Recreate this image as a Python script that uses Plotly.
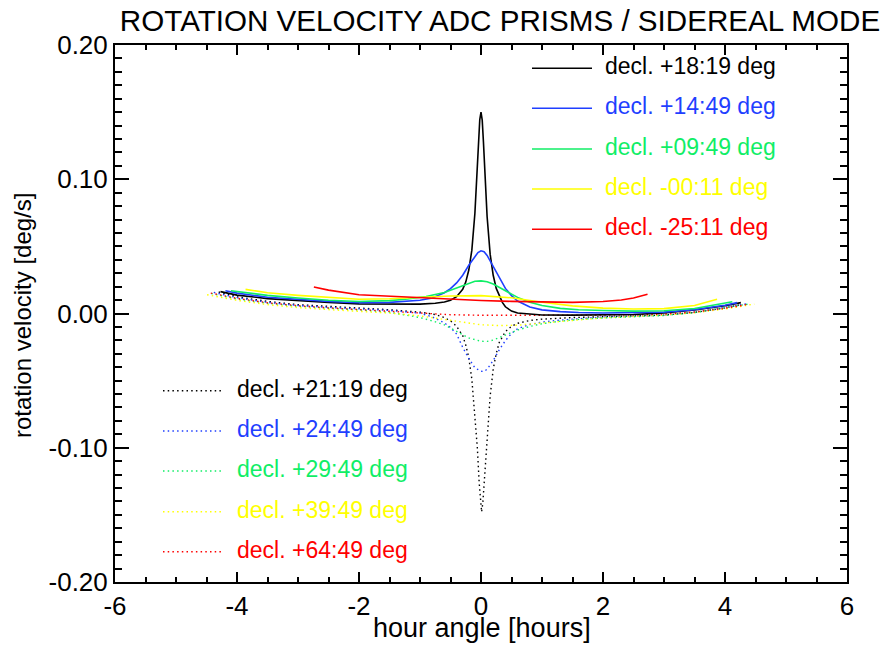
import plotly.graph_objects as go

# ---------------- data ----------------
hours_black_solid = [-4.27, -4.0, -3.5, -3.0, -2.5, -2.0, -1.5, -1.0, -0.75, -0.6, -0.5, -0.4, -0.3, -0.25, -0.2,
                     -0.15, -0.1, -0.07, -0.04, -0.02, 0.0, 0.02, 0.04, 0.07, 0.1, 0.15, 0.2, 0.25, 0.3, 0.35, 0.4,
                     0.5, 0.6, 0.8, 1.0, 1.5, 2.0, 2.5, 3.0, 3.5, 4.0, 4.26]
vel_black_solid = [0.0163, 0.0137, 0.0111, 0.0096, 0.0083, 0.0072, 0.0069, 0.0070, 0.0076, 0.0086, 0.0099, 0.0125,
                   0.0180, 0.0234, 0.0324, 0.0472, 0.0747, 0.0993, 0.1288, 0.1445, 0.1500, 0.1440, 0.1278, 0.0973,
                   0.0723, 0.0442, 0.0285, 0.0187, 0.0128, 0.0083, 0.0050, 0.0018, 0.0004, -0.0006, -0.0011, -0.0012,
                   -0.0011, -0.0007, 0.0005, 0.0026, 0.0058, 0.0081]

hours_blue_solid = [-4.19, -4.0, -3.5, -3.0, -2.5, -2.0, -1.5, -1.0, -0.8, -0.6, -0.5, -0.4, -0.3, -0.2, -0.1, -0.05,
                    0.0, 0.05, 0.1, 0.2, 0.3, 0.4, 0.5, 0.6, 0.8, 1.0, 1.3, 1.6, 2.0, 2.5, 3.0, 3.5, 4.0, 4.2]
vel_blue_solid = [0.0170, 0.0152, 0.0121, 0.0103, 0.0090, 0.0080, 0.0083, 0.0099, 0.0116, 0.0155, 0.0185, 0.0228,
                  0.0285, 0.0359, 0.0428, 0.0454, 0.0467, 0.0460, 0.0433, 0.0349, 0.0261, 0.0187, 0.0133, 0.0093,
                  0.0049, 0.0027, 0.0014, 0.0007, 0.0004, 0.0005, 0.0010, 0.0029, 0.0062, 0.0081]

hours_green_solid = [-4.1, -3.5, -3.0, -2.5, -2.0, -1.5, -1.2, -0.9, -0.6, -0.4, -0.2, -0.1, 0.0, 0.1, 0.2, 0.4, 0.6,
                     0.8, 1.0, 1.3, 1.6, 2.0, 2.5, 3.0, 3.5, 4.12]
vel_green_solid = [0.0170, 0.0135, 0.0115, 0.0099, 0.0089, 0.0096, 0.0108, 0.0127, 0.0157, 0.0190, 0.0227, 0.0240,
                   0.0243, 0.0236, 0.0219, 0.0167, 0.0120, 0.0084, 0.0059, 0.0038, 0.0028, 0.0022, 0.0018, 0.0020,
                   0.0037, 0.0088]

hours_yellow_solid = [-3.86, -3.5, -3.0, -2.5, -2.0, -1.5, -1.0, -0.5, 0.0, 0.5, 1.0, 1.5, 2.0, 2.5, 3.0, 3.5, 3.87]
vel_yellow_solid = [0.0180, 0.0154, 0.0135, 0.0118, 0.0106, 0.0110, 0.0120, 0.0130, 0.0133, 0.0117, 0.0084, 0.0057,
                    0.0040, 0.0033, 0.0036, 0.0059, 0.0106]

hours_red_solid = [-2.74, -2.5, -2.0, -1.5, -1.0, -0.5, 0.0, 0.5, 1.0, 1.5, 2.0, 2.3, 2.5, 2.73]
vel_red_solid = [0.0198, 0.0174, 0.0140, 0.0128, 0.0119, 0.0106, 0.0097, 0.0090, 0.0085, 0.0083, 0.0089, 0.0101,
                 0.0115, 0.0143]

hours_black_dot = [-4.3, -4.0, -3.5, -3.0, -2.5, -2.0, -1.5, -1.0, -0.75, -0.6, -0.5, -0.4, -0.3, -0.25, -0.2, -0.15,
                   -0.1, -0.06, -0.03, 0.0, 0.01, 0.03, 0.06, 0.1, 0.15, 0.2, 0.25, 0.3, 0.4, 0.5, 0.6, 0.8, 1.0, 1.5,
                   2.0, 2.5, 3.0, 3.5, 4.0, 4.28]
vel_black_dot = [0.0160, 0.0125, 0.0090, 0.0066, 0.0053, 0.0043, 0.0028, 0.0010, -0.0008, -0.0030, -0.0055, -0.0095,
                 -0.0165, -0.0235, -0.0330, -0.0490, -0.0740, -0.1000, -0.1260, -0.1440, -0.1478, -0.1410, -0.1210,
                 -0.0910, -0.0615, -0.0415, -0.0298, -0.0215, -0.0135, -0.0095, -0.0073, -0.0052, -0.0042, -0.0030,
                 -0.0023, -0.0018, -0.0012, 0.0008, 0.0042, 0.0068]

hours_blue_dot = [-4.38, -4.0, -3.5, -3.0, -2.5, -2.0, -1.5, -1.0, -0.8, -0.6, -0.5, -0.4, -0.3, -0.2, -0.1, 0.0,
                  0.05, 0.1, 0.2, 0.3, 0.4, 0.5, 0.6, 0.8, 1.0, 1.3, 1.6, 2.0, 2.5, 3.0, 3.5, 4.0, 4.37]
vel_blue_dot = [0.0157, 0.0118, 0.0083, 0.0060, 0.0046, 0.0036, 0.0023, 0.0003, -0.0025, -0.0070, -0.0104, -0.0153,
                -0.0252, -0.0335, -0.0405, -0.0430, -0.0432, -0.0415, -0.0350, -0.0270, -0.0202, -0.0148, -0.0113,
                -0.0082, -0.0064, -0.0049, -0.0037, -0.0026, -0.0020, -0.0012, 0.0010, 0.0047, 0.0073]

hours_green_dot = [-4.42, -4.0, -3.5, -3.0, -2.5, -2.0, -1.5, -1.0, -0.8, -0.6, -0.4, -0.2, 0.0, 0.1, 0.2, 0.4, 0.6,
                   0.8, 1.0, 1.3, 1.6, 2.0, 2.5, 3.0, 3.5, 4.0, 4.42]
vel_green_dot = [0.0148, 0.0108, 0.0076, 0.0054, 0.0039, 0.0027, 0.0009, -0.0030, -0.0055, -0.0084, -0.0133, -0.0182,
                 -0.0207, -0.0208, -0.0198, -0.0158, -0.0123, -0.0097, -0.0076, -0.0057, -0.0044, -0.0033, -0.0025,
                 -0.0015, 0.0007, 0.0043, 0.0073]

hours_yellow_dot = [-4.49, -4.0, -3.5, -3.0, -2.5, -2.0, -1.5, -1.0, -0.5, 0.0, 0.3, 0.6, 1.0, 1.5, 2.0, 2.5, 3.0,
                    3.5, 4.0, 4.48]
vel_yellow_dot = [0.0140, 0.0098, 0.0066, 0.0044, 0.0029, 0.0017, 0.0003, -0.0018, -0.0050, -0.0084, -0.0090,
                  -0.0087, -0.0071, -0.0050, -0.0033, -0.0022, -0.0012, 0.0005, 0.0034, 0.0070]

hours_red_dot = [-4.43, -4.0, -3.5, -3.0, -2.5, -2.0, -1.5, -1.0, -0.5, 0.0, 0.5, 1.0, 1.5, 2.0, 2.5, 3.0, 3.5, 4.0, 4.4]
vel_red_dot = [0.0152, 0.0113, 0.0080, 0.0058, 0.0042, 0.0029, 0.0014, 0.0001, -0.0009, -0.0013, -0.0014, -0.0014,
               -0.0013, -0.0012, -0.0010, -0.0004, 0.0011, 0.0039, 0.0070]

solid_labels = ["decl. +18:19 deg", "decl. +14:49 deg", "decl. +09:49 deg", "decl. -00:11 deg", "decl. -25:11 deg"]
dotted_labels = ["decl. +21:19 deg", "decl. +24:49 deg", "decl. +29:49 deg", "decl. +39:49 deg", "decl. +64:49 deg"]

x_tick_values = [-6, -4, -2, 0, 2, 4, 6]
x_tick_labels = ["-6", "-4", "-2", "0", "2", "4", "6"]
y_tick_values = [-0.2, -0.1, 0.0, 0.1, 0.2]
y_tick_labels = ["-0.20", "-0.10", "0.00", "0.10", "0.20"]

title_text = "ROTATION VELOCITY ADC PRISMS / SIDEREAL MODE"
x_title = "hour angle [hours]"
y_title = "rotation velocity [deg/s]"

# ---------------- styling ----------------
colors = ["#000000", "#1f3fff", "#10ee66", "#ffff00", "#ff0000"]
FONT = "Liberation Sans, Arial, Helvetica, sans-serif"
DOT = "1.5px,3.2px"

solid_series = [(hours_black_solid, vel_black_solid), (hours_blue_solid, vel_blue_solid),
                (hours_green_solid, vel_green_solid), (hours_yellow_solid, vel_yellow_solid),
                (hours_red_solid, vel_red_solid)]
dotted_series = [(hours_black_dot, vel_black_dot), (hours_blue_dot, vel_blue_dot),
                 (hours_green_dot, vel_green_dot), (hours_yellow_dot, vel_yellow_dot),
                 (hours_red_dot, vel_red_dot)]

fig = go.Figure()
for (hx, vy), col, lab in zip(dotted_series, colors, dotted_labels):
    fig.add_trace(go.Scatter(x=hx, y=vy, mode="lines", name=lab,
                             line=dict(color=col, width=1.4, dash=DOT), showlegend=False))
for (hx, vy), col, lab in zip(solid_series, colors, solid_labels):
    fig.add_trace(go.Scatter(x=hx, y=vy, mode="lines", name=lab,
                             line=dict(color=col, width=1.6), showlegend=False))

# plot-area geometry in pixels (for legend / title placement)
W, H = 889, 646
L, R, T, B = 115, 42, 45, 64
PW, PH = W - L - R, H - T - B


def px_x(p):
    return (p - L) / PW


def px_y(p):
    return (H - B - p) / PH


shapes = []
annotations = []
top_rows = [68.3, 108.3, 149.0, 189.0, 229.3]
for row, col, lab in zip(top_rows, colors, solid_labels):
    shapes.append(dict(type="line", xref="paper", yref="paper", x0=px_x(532), x1=px_x(592),
                       y0=px_y(row), y1=px_y(row), line=dict(color=col, width=1.6)))
    annotations.append(dict(xref="paper", yref="paper", x=px_x(603), y=px_y(row - 2), text=lab,
                            showarrow=False, xanchor="left", yanchor="middle",
                            font=dict(family=FONT, size=23, color=col)))
bottom_rows = [390.7, 431.0, 471.0, 511.7, 551.7]
for row, col, lab in zip(bottom_rows, colors, dotted_labels):
    shapes.append(dict(type="line", xref="paper", yref="paper", x0=px_x(163), x1=px_x(223),
                       y0=px_y(row), y1=px_y(row), line=dict(color=col, width=1.4, dash=DOT)))
    annotations.append(dict(xref="paper", yref="paper", x=px_x(235), y=px_y(row - 2), text=lab,
                            showarrow=False, xanchor="left", yanchor="middle",
                            font=dict(family=FONT, size=23, color=col)))

# axis titles placed as annotations (exact position as in the reference)
annotations.append(dict(xref="paper", yref="paper", x=px_x(482), y=px_y(628), text=x_title, showarrow=False,
                        xanchor="center", yanchor="middle", font=dict(family=FONT, size=27, color="black")))
annotations.append(dict(xref="paper", yref="paper", x=px_x(22), y=px_y(316), text=y_title, showarrow=False,
                        textangle=-90, xanchor="center", yanchor="middle",
                        font=dict(family=FONT, size=24, color="black")))

axis_common = dict(showline=True, linecolor="black", linewidth=2, mirror="ticks", ticks="inside",
                   tickcolor="black", tickwidth=1.6, showgrid=False, zeroline=False, automargin=False,
                   tickfont=dict(family=FONT, size=26, color="black"))

fig.update_layout(
    width=W, height=H,
    margin=dict(l=L, r=R, t=T, b=B, pad=0, autoexpand=False),
    paper_bgcolor="white", plot_bgcolor="white",
    title=dict(text=title_text, x=500 / W, xanchor="center", xref="container",
               y=1 - 21 / H, yanchor="middle", font=dict(family=FONT, size=29.6, color="black")),
    xaxis=dict(range=[-6, 6], tickmode="array", tickvals=x_tick_values, ticktext=x_tick_labels, ticklen=10,
               minor=dict(dtick=0.5, ticklen=5, ticks="inside", tickcolor="black", tickwidth=1.6),
               **axis_common),
    yaxis=dict(range=[-0.2, 0.2], tickmode="array", tickvals=y_tick_values, ticktext=y_tick_labels, ticklen=14,
               minor=dict(dtick=0.01, ticklen=7, ticks="inside", tickcolor="black", tickwidth=1.6),
               **axis_common),
    shapes=shapes, annotations=annotations,
)

fig.write_html("out.html", config={"displayModeBar": False},
               post_script="document.body.style.margin='0px';")
